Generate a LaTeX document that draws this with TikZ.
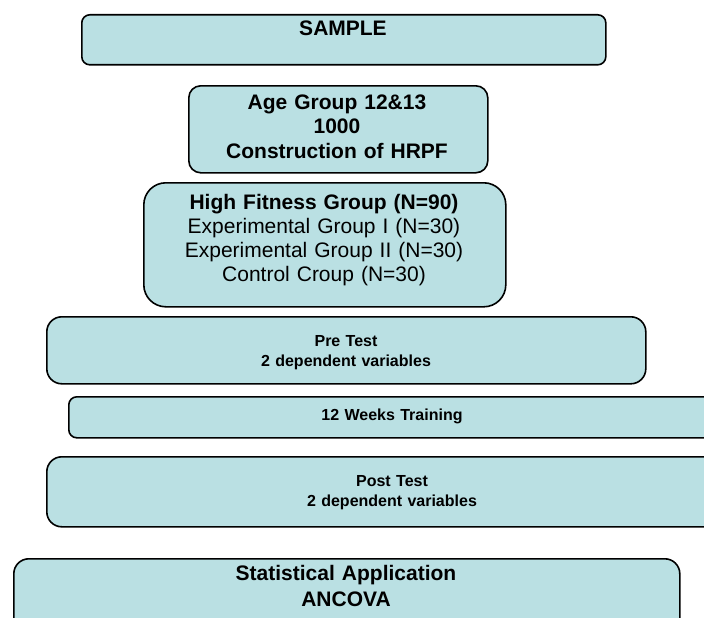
\documentclass[tikz,border=0pt]{standalone}
\usepackage{fontspec}
\setmainfont{Liberation Sans}
\definecolor{boxfill}{RGB}{186,224,227}
\begin{document}
\begin{tikzpicture}[x=1pt,y=-1pt]
\tikzset{
  box/.style={draw=black, line width=1.6pt, fill=boxfill, anchor=north west, inner sep=0pt},
  txt/.style={anchor=base, align=center, inner sep=0pt, text width=420pt,
    font=\fontsize{21}{24}\selectfont},
  smalltxt/.style={txt, font=\fontsize{16}{20}\selectfont\bfseries},
}
\useasboundingbox (0,0) rectangle (704,618);
\begin{scope}
\clip (0,0) rectangle (704,618);
% boxes
\node[box, rounded corners=8pt, minimum width=524pt, minimum height=50pt] (sample) at (81,14) {};
\node[box, rounded corners=12pt, minimum width=299pt, minimum height=87pt] (age) at (188,85) {};
\node[box, rounded corners=22pt, minimum width=362pt, minimum height=124pt] (high) at (143,182) {};
\node[box, rounded corners=15pt, minimum width=599pt, minimum height=67pt] (pre) at (46,316) {};
\node[box, rounded corners=8pt, minimum width=648pt, minimum height=41pt] (train) at (68,396) {};
\node[box, rounded corners=15pt, minimum width=692pt, minimum height=70pt] (post) at (46,456) {};
\node[box, rounded corners=15pt, minimum width=666pt, minimum height=90pt] (stat) at (13,558) {};
\end{scope}
% texts
\node[txt] (sampletxt) at (343,36) {\bfseries SAMPLE};
\node[txt] (agetxt) at (337,110) {\bfseries Age Group 12\&13\\1000\\Construction of HRPF};
\node[txt] (hightxt) at (324,209) {\textbf{High Fitness Group (N=90)}\\Experimental Group I (N=30)\\Experimental Group II (N=30)\\Control Croup (N=30)};
\node[smalltxt] (pretxt) at (346,346) {Pre Test\\2 dependent variables};
\node[smalltxt] (traintxt) at (392,420) {12 Weeks Training};
\node[smalltxt] (posttxt) at (392,486) {Post Test\\2 dependent variables};
\node[txt, font=\fontsize{21}{26}\selectfont] (stattxt) at (346,580) {\bfseries Statistical Application\\ANCOVA};
\end{tikzpicture}
\end{document}
